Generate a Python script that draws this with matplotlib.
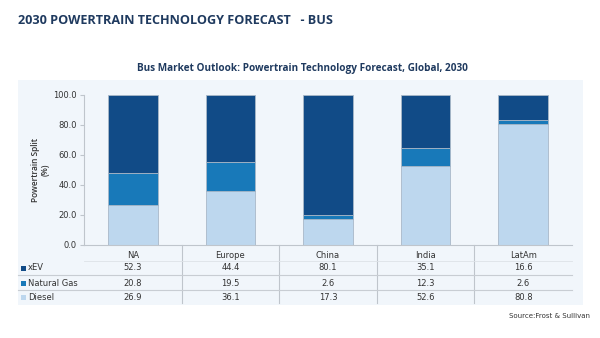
import matplotlib
matplotlib.use("Agg")
import matplotlib.pyplot as plt
from matplotlib.patches import Rectangle
import matplotlib.transforms as mtrans

categories = ["NA", "Europe", "China", "India", "LatAm"]
series_names = ["xEV", "Natural Gas", "Diesel"]
xev = [52.3, 44.4, 80.1, 35.1, 16.6]
natural_gas = [20.8, 19.5, 2.6, 12.3, 2.6]
diesel = [26.9, 36.1, 17.3, 52.6, 80.8]
yticks = [0, 20, 40, 60, 80, 100]

colors = {"xEV": "#114B87", "Natural Gas": "#1879B9", "Diesel": "#BDD7EE"}
panel_color = "#F1F6FB"
title_color = "#1F3A5F"
text_color = "#333333"
line_color = "#BFC5CC"

W, H = 600, 338
fig = plt.figure(figsize=(6, 3.38), dpi=100)
fig.patch.set_facecolor("white")

# background panel
fig.add_artist(Rectangle((18 / W, 1 - 305 / H), (583 - 18) / W, (305 - 80) / H,
                         transform=fig.transFigure, facecolor=panel_color,
                         edgecolor="none", zorder=0))

fig.text(18 / W, 1 - 20 / H, "2030 POWERTRAIN TECHNOLOGY FORECAST   - BUS",
         fontsize=9.1, fontweight="bold", color=title_color, family="Open Sans",
         va="center", ha="left")
fig.text(302 / W, 1 - 69 / H,
         "Bus Market Outlook: Powertrain Technology Forecast, Global, 2030",
         fontsize=7.2, fontweight="bold", color=title_color, family="Open Sans",
         va="center", ha="center")

ax_left, ax_right, ax_top, ax_bot = 84, 572, 95, 245
ax = fig.add_axes([ax_left / W, 1 - ax_bot / H, (ax_right - ax_left) / W,
                   (ax_bot - ax_top) / H])
ax.set_facecolor("none")
ax.patch.set_alpha(0)

x = list(range(len(categories)))
bw = 0.51
ax.bar(x, diesel, bw, color=colors["Diesel"], edgecolor="#A9B8C8", linewidth=0.6, zorder=2)
ax.bar(x, natural_gas, bw, bottom=diesel, color=colors["Natural Gas"],
       edgecolor="#A9B8C8", linewidth=0.6, zorder=2)
bottom2 = [d + n for d, n in zip(diesel, natural_gas)]
ax.bar(x, xev, bw, bottom=bottom2, color=colors["xEV"], edgecolor="#A9B8C8",
       linewidth=0.6, zorder=2)

ax.set_xlim(-0.5, len(categories) - 0.5)
ax.set_ylim(0, 100)
ax.set_yticks(yticks)
ax.set_yticklabels([f"{v:.1f}" for v in yticks], fontsize=6, color=text_color,
                   family="DejaVu Sans")
ax.set_xticks([])
for s in ["top", "right"]:
    ax.spines[s].set_visible(False)
ax.spines["left"].set_color(line_color)
ax.spines["bottom"].set_color(line_color)
ax.spines["left"].set_linewidth(0.8)
ax.spines["bottom"].set_linewidth(0.8)
ax.tick_params(axis="y", length=3, color=line_color, pad=2)

fig.text(40 / W, 1 - 170 / H, "Powertrain Split\n(%)", rotation=90,
         fontsize=6, fontweight="semibold", color=text_color, family="Open Sans",
         ha="center", va="center", linespacing=1.1)

# data table below axes
axh = ax_bot - ax_top
def yax(py):
    return -(py - ax_bot) / axh

trans = mtrans.blended_transform_factory(ax.transData, ax.transAxes)
rows_y = [256, 268, 283, 297]
line_y = [261, 275, 290]

for i, c in enumerate(categories):
    ax.text(i, yax(rows_y[0]), c, transform=trans, ha="center", va="center",
            fontsize=6, color=text_color, family="DejaVu Sans", clip_on=False)
data_rows = [xev, natural_gas, diesel]
for r, (name, vals) in enumerate(zip(series_names, data_rows)):
    for i, v in enumerate(vals):
        ax.text(i, yax(rows_y[r + 1]), f"{v:.1f}", transform=trans, ha="center",
                va="center", fontsize=6, color=text_color, family="DejaVu Sans",
                clip_on=False)
    fig.add_artist(Rectangle((21 / W, 1 - (rows_y[r + 1] + 2.5) / H), 5 / W, 5 / H,
                             transform=fig.transFigure, facecolor=colors[name],
                             edgecolor="none"))
    fig.text(28 / W, 1 - rows_y[r + 1] / H, name, fontsize=6, color=text_color,
             family="DejaVu Sans", ha="left", va="center")

for ly in line_y[1:]:
    fig.add_artist(plt.Line2D([18 / W, ax_right / W], [1 - ly / H, 1 - ly / H],
                              transform=fig.transFigure, color="#C8CDD3", lw=0.8))
fig.add_artist(plt.Line2D([ax_left / W, ax_right / W], [1 - line_y[0] / H, 1 - line_y[0] / H],
                          transform=fig.transFigure, color="#DDE2E7", lw=0.6))
for k in range(1, len(categories)):
    ax.plot([k - 0.5, k - 0.5], [0, yax(303)], transform=trans, color=line_color,
            lw=0.8, clip_on=False)

fig.text(590 / W, 1 - 316 / H, "Source:Frost & Sullivan", fontsize=5,
         color=text_color, family="DejaVu Sans", ha="right", va="center")

fig.savefig("out.png", dpi=100, facecolor="white")
